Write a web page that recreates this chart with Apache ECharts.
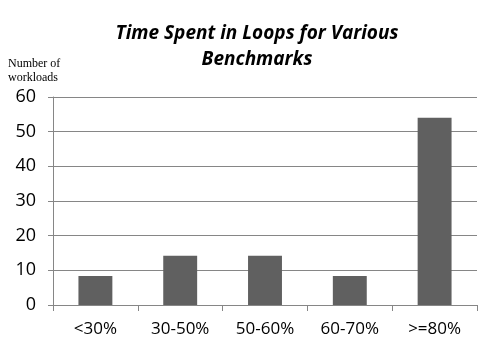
<!DOCTYPE html>
<html><head><meta charset="utf-8">
<script src="https://cdn.jsdelivr.net/npm/echarts@6/dist/echarts.min.js"></script>
<style>html,body{margin:0;padding:0;background:#fff}#c{width:493px;height:355px}</style>
</head><body><div id="c"></div>
<script>
const categories = ['<30%', '30-50%', '50-60%', '60-70%', '>=80%'];
const values = [8.4, 14.2, 14.2, 8.4, 54];
const yTicks = { min: 0, max: 60, interval: 10 };
const titleText = 'Time Spent in Loops for Various\nBenchmarks';
const yName = 'Number of\nworkloads';

const chart = echarts.init(document.getElementById('c'));
chart.setOption({
  backgroundColor: '#fff',
  animation: false,
  title: {
    text: titleText, left: 252, top: 16, textAlign: 'center',
    textStyle: { fontFamily: 'Open Sans', fontStyle: 'italic', fontWeight: 'bold', fontSize: 19, lineHeight: 26, color: '#000' }
  },
  graphic: [{
    type: 'text', left: 8, top: 57,
    style: { text: yName, font: '12px "Liberation Serif"', lineHeight: 14, fill: '#000' }
  }],
  grid: { left: 53, right: 16, top: 97, bottom: 50 },
  xAxis: {
    type: 'category', data: categories,
    axisLine: { lineStyle: { color: '#868686' } },
    axisTick: { show: true, length: 6, lineStyle: { color: '#868686' } },
    axisLabel: { fontFamily: 'Open Sans', fontSize: 17, color: '#000', margin: 16 }
  },
  yAxis: {
    type: 'value', min: yTicks.min, max: yTicks.max, interval: yTicks.interval,
    axisLine: { show: true, lineStyle: { color: '#868686' } },
    axisTick: { show: true, length: 5, lineStyle: { color: '#868686' } },
    splitLine: { lineStyle: { color: '#868686' } },
    axisLabel: { fontFamily: 'Open Sans', fontSize: 18, color: '#000', margin: 17 }
  },
  series: [{
    type: 'bar', data: values, barWidth: '40%',
    itemStyle: { color: '#606060' }
  }]
});
</script></body></html>
